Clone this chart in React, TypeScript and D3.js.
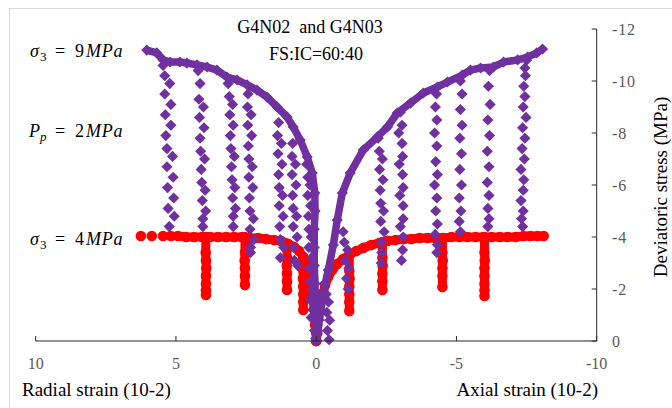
import React from "react";
import * as d3 from "d3";

type Pt = [number, number]; // [strain (10-2), deviatoric stress (MPa)]

const xTicks = [10, 5, 0, -5, -10];
const yTicks = [0, -2, -4, -6, -8, -10, -12];

const titleLines = ["G4N02  and G4N03", "FS:IC=60:40"];
const xTitleLeft = "Radial strain (10-2)";
const xTitleRight = "Axial strain (10-2)";
const yTitle = "Deviatoric stress (MPa)";

// sigma3 = 9 MPa, envelopes (purple diamonds)
const env9Radial: Pt[] = [
  [0, 0], [0.0, -0.8], [0.04, -1.5], [0.04, -2.2], [0.07, -2.9], [0.07, -3.6], [0.07, -4.3],
  [0.04, -5.0], [0.05, -5.69], [0.14, -6.46], [0.32, -7.08], [0.57, -7.73], [0.82, -8.23],
  [1.04, -8.62], [1.39, -9.0], [1.75, -9.38], [2.11, -9.65], [2.46, -9.85], [2.82, -10.04],
  [3.18, -10.15], [3.54, -10.42], [3.89, -10.54], [4.25, -10.62], [4.61, -10.69], [4.86, -10.73],
  [5.21, -10.73], [5.46, -10.81], [5.68, -11.08], [6.04, -11.19],
];
const env9Axial: Pt[] = [
  [0, 0], [-0.11, -0.81], [-0.25, -1.77], [-0.43, -2.73], [-0.61, -3.69], [-0.75, -4.65],
  [-0.93, -5.69], [-1.21, -6.46], [-1.68, -7.35], [-2.18, -7.85], [-2.54, -8.23], [-2.89, -8.77],
  [-3.36, -9.15], [-3.82, -9.54], [-4.32, -9.77], [-4.68, -9.96], [-5.21, -10.23], [-5.5, -10.42],
  [-5.86, -10.5], [-6.32, -10.54], [-6.68, -10.73], [-7.18, -10.81], [-7.54, -10.92],
  [-7.86, -11.08], [-8.07, -11.23],
];

// sigma3 = 9 MPa, unloading / reloading loops
const loop9R1: Pt[] = [[5.46, -10.6], [5.40, -10.2], [5.22, -9.9], [5.40, -9.5], [5.18, -9.1], [5.38, -8.7], [5.18, -8.3], [5.36, -7.9], [5.32, -7.4], [5.12, -7.1], [5.32, -6.7], [5.10, -6.3], [5.30, -5.9], [5.08, -5.5], [5.28, -5.1], [5.06, -4.8], [5.24, -4.4]];
const loop9R2: Pt[] = [[4.21, -10.4], [4.14, -9.9], [4.18, -9.3], [4.02, -9.0], [4.16, -8.6], [4.00, -8.2], [4.14, -7.8], [4.12, -7.3], [3.98, -7.0], [4.10, -6.6], [4.08, -6.1], [3.96, -5.8], [4.06, -5.4], [3.94, -5.0], [4.04, -4.7], [4.04, -4.4]];
const loop9R3: Pt[] = [[3.14, -9.9], [3.10, -9.4], [2.98, -9.1], [3.08, -8.7], [2.96, -8.3], [3.06, -7.9], [3.04, -7.4], [2.92, -7.1], [3.02, -6.7], [3.00, -6.2], [2.90, -5.9], [2.98, -5.5], [2.88, -5.1], [2.96, -4.8], [2.96, -4.4]];
const loop9R4: Pt[] = [[2.43, -9.5], [2.45, -9.0], [2.32, -8.7], [2.44, -8.3], [2.30, -7.9], [2.42, -7.5], [2.40, -7.0], [2.28, -6.7], [2.40, -6.3], [2.26, -5.9], [2.38, -5.5], [2.36, -5.0], [2.24, -4.7], [2.36, -4.3], [2.22, -3.9], [2.34, -3.6], [2.34, -3.4]];
const loop9R5: Pt[] = [[1.34, -8.4], [1.38, -7.9], [1.24, -7.6], [1.36, -7.2], [1.22, -6.8], [1.34, -6.4], [1.32, -5.9], [1.20, -5.6], [1.32, -5.2], [1.18, -4.8], [1.30, -4.4], [1.28, -3.9], [1.16, -3.6], [1.28, -3.2]];
const loop9R6: Pt[] = [[0.84, -7.6], [0.86, -7.1], [0.74, -6.8], [0.86, -6.4], [0.72, -6.0], [0.84, -5.6], [0.82, -5.1], [0.70, -4.8], [0.82, -4.4], [0.68, -4.0], [0.80, -3.6], [0.78, -3.1], [0.66, -2.9]];
const loop9R7: Pt[] = [[0.34, -6.8], [0.30, -6.3], [0.22, -6.0], [0.30, -5.6], [0.20, -5.2], [0.28, -4.8], [0.26, -4.3], [0.18, -4.0], [0.26, -3.6], [0.16, -3.2], [0.24, -2.8], [0.22, -2.3], [0.14, -2.0], [0.20, -1.6], [0.12, -1.2], [0.18, -0.9]];
const loop9R8: Pt[] = [[0.12, -2.4], [0.10, -1.9], [0.02, -1.6], [0.08, -1.2], [0.0, -0.8], [0.06, -0.4], [0.02, -0.1]];
const loop9A0: Pt[] = [[-0.29, -2.2], [-0.36, -1.8], [-0.44, -1.5], [-0.38, -1.1], [-0.48, -0.8], [-0.40, -0.4], [-0.46, -0.05]];
const loop9A1: Pt[] = [[-0.96, -4.2], [-1.00, -3.8], [-1.12, -3.5], [-1.04, -3.1], [-1.16, -2.8], [-1.08, -2.4], [-1.14, -2.0]];
const loop9A2: Pt[] = [[-2.21, -7.8], [-2.25, -7.3], [-2.36, -7.0], [-2.26, -6.6], [-2.38, -6.2], [-2.28, -5.8], [-2.30, -5.3], [-2.40, -5.0], [-2.30, -4.6], [-2.42, -4.2], [-2.32, -3.8], [-2.34, -3.4], [-2.32, -3.0]];
const loop9A3: Pt[] = [[-3.00, -8.8], [-3.06, -8.3], [-2.94, -8.0], [-3.06, -7.6], [-3.08, -7.1], [-2.96, -6.8], [-3.08, -6.4], [-3.10, -5.9], [-2.98, -5.6], [-3.10, -5.2], [-3.10, -4.7], [-3.00, -4.4], [-3.10, -4.0], [-3.08, -3.5], [-3.04, -3.1]];
const loop9A4: Pt[] = [[-4.29, -9.5], [-4.25, -9.0], [-4.30, -8.5], [-4.22, -8.0], [-4.30, -7.5], [-4.26, -6.9], [-4.32, -6.4], [-4.22, -6.0], [-4.30, -5.5], [-4.26, -5.0], [-4.32, -4.5], [-4.24, -4.1], [-4.32, -3.7], [-4.30, -3.4]];
const loop9A5: Pt[] = [[-5.14, -10.0], [-5.20, -9.5], [-5.14, -8.9], [-5.20, -8.3], [-5.12, -7.8], [-5.18, -7.2], [-5.12, -6.6], [-5.18, -6.0], [-5.10, -5.5], [-5.16, -5.0], [-5.10, -4.6], [-5.14, -4.2]];
const loop9A6: Pt[] = [[-6.18, -10.4], [-6.14, -9.8], [-6.20, -9.1], [-6.12, -8.5], [-6.18, -7.9], [-6.10, -7.3], [-6.16, -6.7], [-6.10, -6.1], [-6.16, -5.6], [-6.12, -5.1], [-6.16, -4.7], [-6.12, -4.4]];
const loop9A7: Pt[] = [[-7.50, -10.8], [-7.44, -10.5], [-7.46, -10.2], [-7.40, -9.8], [-7.44, -9.4], [-7.38, -9.0], [-7.48, -8.6], [-7.36, -8.2], [-7.44, -7.8], [-7.34, -7.4], [-7.42, -7.0], [-7.30, -6.6], [-7.40, -6.2], [-7.38, -5.8], [-7.30, -5.4], [-7.38, -5.0], [-7.32, -4.7], [-7.36, -4.4]];

const loops9 = [loop9R1, loop9R2, loop9R3, loop9R4, loop9R5, loop9R6, loop9R7, loop9R8,
  loop9A0, loop9A1, loop9A2, loop9A3, loop9A4, loop9A5, loop9A6, loop9A7];

// sigma3 = 4 MPa (red circles)
const env4Radial: Pt[] = [
  [0, 0], [0, -0.31], [0.04, -0.62], [0.04, -0.92], [0.07, -1.23], [0.11, -1.54], [0.14, -1.85],
  [0.18, -2.15], [0.21, -2.46], [0.29, -2.73], [0.36, -3.0], [0.46, -3.23], [0.61, -3.46],
  [0.79, -3.62], [1.0, -3.73], [1.25, -3.85], [1.5, -3.88], [1.79, -3.92], [2.07, -3.96],
  [2.36, -3.96], [2.64, -4.0], [2.93, -4.0], [3.21, -4.0], [3.5, -4.0], [3.79, -4.0], [4.07, -4.0],
  [4.36, -4.0], [4.64, -4.0], [4.93, -4.04], [5.18, -4.04], [5.46, -4.04], [5.86, -4.04], [6.25, -4.04],
];
const env4Axial: Pt[] = [
  [0, 0], [-0.04, -0.31], [-0.04, -0.62], [-0.07, -0.92], [-0.11, -1.23], [-0.18, -1.54],
  [-0.25, -1.85], [-0.32, -2.15], [-0.43, -2.46], [-0.57, -2.73], [-0.75, -2.96], [-0.96, -3.15],
  [-1.18, -3.31], [-1.43, -3.46], [-1.68, -3.58], [-1.96, -3.69], [-2.25, -3.77], [-2.54, -3.85],
  [-2.82, -3.88], [-3.11, -3.92], [-3.39, -3.92], [-3.68, -3.96], [-3.96, -3.96], [-4.25, -3.96],
  [-4.54, -3.96], [-4.82, -4.0], [-5.11, -4.0], [-5.39, -4.0], [-5.68, -4.0], [-5.96, -4.0],
  [-6.25, -4.0], [-6.54, -4.0], [-6.82, -4.0], [-7.11, -4.0], [-7.39, -4.04], [-7.64, -4.04],
  [-7.89, -4.04], [-8.11, -4.04],
];
const drop4R1: Pt[] = [[3.93, -4.0], [3.94, -3.4], [3.93, -3.1], [3.92, -2.8], [3.93, -2.5], [3.93, -2.2], [3.93, -1.95], [3.93, -1.77]];
const drop4R2: Pt[] = [[2.54, -4.0], [2.54, -3.4], [2.55, -3.1], [2.54, -2.8], [2.54, -2.5], [2.54, -2.15]];
const drop4R3: Pt[] = [[1.04, -3.75], [1.04, -3.2], [1.05, -2.9], [1.04, -2.6], [1.04, -2.3], [1.04, -1.96]];
const drop4R4: Pt[] = [[0.46, -3.2], [0.46, -2.7], [0.47, -2.4], [0.46, -2.1], [0.46, -1.8], [0.46, -1.5], [0.46, -1.19]];
const drop4A1: Pt[] = [[-1.18, -3.3], [-1.18, -2.7], [-1.19, -2.4], [-1.18, -2.1], [-1.18, -1.8], [-1.18, -1.5], [-1.18, -1.15]];
const drop4A2: Pt[] = [[-2.36, -3.8], [-2.36, -3.2], [-2.37, -2.9], [-2.36, -2.6], [-2.36, -2.3], [-2.36, -1.96]];
const drop4A3: Pt[] = [[-4.5, -3.96], [-4.5, -3.4], [-4.51, -3.1], [-4.5, -2.8], [-4.5, -2.5], [-4.5, -2.08]];
const drop4A4: Pt[] = [[-6.0, -4.0], [-6.0, -3.4], [-6.01, -3.1], [-6.0, -2.8], [-6.0, -2.5], [-6.0, -2.2], [-6.0, -1.95], [-6.0, -1.73]];

const drops4 = [drop4R1, drop4R2, drop4R3, drop4R4, drop4A1, drop4A2, drop4A3, drop4A4];

const purple = "#7030A0";
const red = "#FF0000";
const serif = "'Liberation Serif', 'Times New Roman', serif";

export default function App() {
  const x = d3.scaleLinear().domain([10, -10]).range([35.7, 596.7]);
  const y = d3.scaleLinear().domain([0, -12]).range([341, 29]);
  const line = d3.line<Pt>().x((d) => x(d[0])).y((d) => y(d[1]));
  const diamond = d3.symbol(d3.symbolSquare, 62)() || "";

  const redPts = [...env4Radial, ...env4Axial, ...drops4.flat()];
  const purplePts = [...env9Radial, ...env9Axial, ...loops9.flat()];
  // the outer ends of the red envelopes are sparse, so only the dense part is joined
  const redBands = [env4Radial.slice(0, 29), env4Axial, ...drops4];

  return (
    <svg width={672} height={408} style={{ position: "absolute", left: 0, top: 0, background: "#fff" }}>
      <rect x={9.5} y={8.5} width={700} height={420} fill="#fff" stroke="#D9D9D9" />

      {/* red series */}
      {redBands.map((d, i) => (
        <path key={"rb" + i} d={line(d) || ""} fill="none" stroke={red} strokeWidth={9}
          strokeLinecap="round" strokeLinejoin="round" />
      ))}
      {redPts.map((d, i) => (
        <circle key={"r" + i} cx={x(d[0])} cy={y(d[1])} r={5.3} fill={red} />
      ))}

      {/* purple series */}
      {[env9Radial, env9Axial].map((d, i) => (
        <path key={"e" + i} d={line(d) || ""} fill="none" stroke={purple} strokeWidth={7.5} strokeLinejoin="round" />
      ))}
      {purplePts.map((d, i) => (
        <path key={"p" + i} d={diamond} transform={`translate(${x(d[0])},${y(d[1])}) rotate(45)`} fill={purple} />
      ))}

      {/* x axis */}
      <line x1={x(10)} x2={x(-10)} y1={y(0)} y2={y(0)} stroke="#262626" strokeWidth={1} />
      {xTicks.map((t) => (
        <g key={"xt" + t}>
          <line x1={x(t)} x2={x(t)} y1={y(0) - 5} y2={y(0)} stroke="#262626" />
          <text x={x(t)} y={369} textAnchor="middle" fontFamily={serif} fontSize={16} fill="#595959">{t}</text>
        </g>
      ))}

      {/* y axis on the right */}
      <line x1={x(-10)} x2={x(-10)} y1={y(-12)} y2={y(0)} stroke="#262626" strokeWidth={1} />
      {yTicks.map((t) => (
        <g key={"yt" + t}>
          <line x1={x(-10) - 5} x2={x(-10)} y1={y(t)} y2={y(t)} stroke="#262626" />
          <text x={612} y={y(t) + 5.5} fontFamily={serif} fontSize={16} letterSpacing={0.8} fill="#595959">{t}</text>
        </g>
      ))}

      <text x={22} y={396} fontFamily={serif} fontSize={19} fill="#000">{xTitleLeft}</text>
      <text x={598} y={396} textAnchor="end" fontFamily={serif} fontSize={19} fill="#000">{xTitleRight}</text>
      <text transform="translate(667,187) rotate(-90)" textAnchor="middle" fontFamily={serif} fontSize={19} fill="#000">{yTitle}</text>

      <text x={310} y={33} textAnchor="middle" fontFamily={serif} fontSize={18} fill="#000" style={{ whiteSpace: "pre" }}>{titleLines[0]}</text>
      <text x={316} y={60} textAnchor="middle" fontFamily={serif} fontSize={18} fill="#000">{titleLines[1]}</text>

      {/* annotations */}
      <g fontFamily={serif} fontSize={18} fill="#000">
        <text y={57}>
          <tspan x={30} fontStyle="italic">σ</tspan>
          <tspan x={40} dy={4} fontSize={13}>3</tspan>
          <tspan x={55} dy={-4}>=</tspan>
          <tspan x={75}>9</tspan>
          <tspan x={86} fontStyle="italic" letterSpacing={0.8}>MPa</tspan>
        </text>
        <text y={137}>
          <tspan x={29} fontStyle="italic">P</tspan>
          <tspan x={40} dy={4} fontSize={13} fontStyle="italic">p</tspan>
          <tspan x={55} dy={-4}>=</tspan>
          <tspan x={75}>2</tspan>
          <tspan x={86} fontStyle="italic" letterSpacing={0.8}>MPa</tspan>
        </text>
        <text y={245}>
          <tspan x={30} fontStyle="italic">σ</tspan>
          <tspan x={40} dy={4} fontSize={13}>3</tspan>
          <tspan x={55} dy={-4}>=</tspan>
          <tspan x={75}>4</tspan>
          <tspan x={86} fontStyle="italic" letterSpacing={0.8}>MPa</tspan>
        </text>
      </g>
    </svg>
  );
}
